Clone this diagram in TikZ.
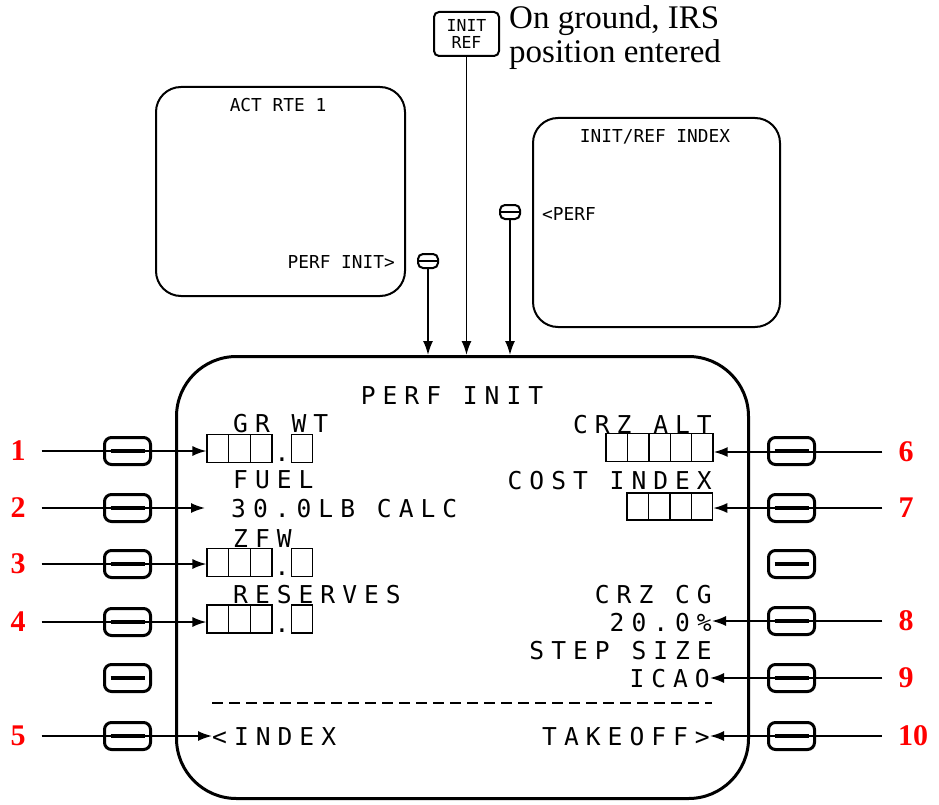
\documentclass[tikz,border=0pt]{standalone}
\usepackage{fontspec}
\usetikzlibrary{arrows.meta,positioning}
\newfontfamily\cdufont{DejaVu Sans Mono}
\newfontfamily\cduwide[LetterSpace=28.5]{DejaVu Sans Mono}
\newfontfamily\notefont{Liberation Serif}

\begin{document}
\begin{tikzpicture}[
      x=1pt, y=-1pt,
      screen/.style={draw, line width=2pt, rounded corners=25pt, inner sep=0pt},
      lsk/.style={draw, line width=3pt, rounded corners=7pt, minimum width=46pt, minimum height=27pt, inner sep=0pt,
        path picture={\draw[line width=4.5pt] ([xshift=-17pt]path picture bounding box.center) -- ([xshift=17pt]path picture bounding box.center);}},
      minikey/.style={draw, line width=2pt, rounded corners=5pt, minimum width=20pt, minimum height=14pt, inner sep=0pt,
        path picture={\draw[line width=1.5pt] (path picture bounding box.west) -- (path picture bounding box.east);}},
      cell/.style={draw, line width=1.3pt, minimum width=21.5pt, minimum height=28pt, inner sep=0pt},
      cdu/.style={font=\cduwide\fontsize{24.6}{28}\selectfont, inner sep=0pt},
      cdudot/.style={font=\cdufont\fontsize{24.6}{28}\selectfont, inner sep=0pt},
      small/.style={font=\cdufont\fontsize{17.8}{20}\selectfont, inner sep=0pt},
      num/.style={font=\notefont\bfseries\fontsize{30}{30}\selectfont, text=red, inner ysep=0pt, inner xsep=16pt},
      conn/.style={line width=1.7pt, -{Latex[length=14pt, width=10pt]}},
    ]
    \useasboundingbox (0,0) rectangle (939,805);

    % source pages
    \node[draw, line width=2pt, rounded corners=5pt, minimum width=65pt, minimum height=44pt, inner sep=0pt, align=center,
      font=\cdufont\fontsize{16.5}{17}\selectfont] (initref) at (466.5,34) {INIT\\REF};
    \node[font=\notefont\fontsize{33}{34}\selectfont, anchor=north west, align=left, inner sep=0pt] (note) at (509,5)
      {On ground, IRS\\position entered};

    \node[screen, minimum width=249pt, minimum height=209pt] (actrte) at (280.5,191.5) {};
    \node[small, anchor=base] (acttitle) at (278,112) {ACT RTE 1};
    \node[small, anchor=base east] (perfinit) at (395,268) {PERF INIT>};
    \node[minikey] (actkey) at (428,261) {};

    \node[screen, minimum width=247pt, minimum height=209pt] (refidx) at (656.5,222.5) {};
    \node[small, anchor=base] (idxtitle) at (655,143) {INIT/REF INDEX};
    \node[small, anchor=base west] (perfsel) at (542,220) {<PERF};
    \node[minikey] (idxkey) at (510,212) {};

    % PERF INIT page
    \node[draw, line width=3pt, rounded corners=60pt, minimum width=572pt, minimum height=442pt, inner sep=0pt] (perf) at (462.5,577.5) {};

    \foreach \y [count=\k] in {451,508,564,622,678,736}
      \node[lsk] (lk\k) at (127.5,\y) {};
    \foreach \y [count=\k] in {451,508,564,621,678,736}
      \node[lsk] (rk\k) at (791.5,\y) {};

    \node[cdu, anchor=base] (title) at (452,404) {PERF INIT};
    \node[cdu, anchor=base west] (grwt) at (233,432) {GR WT};
    \node[cdu, anchor=base west] (fuel) at (233,488) {FUEL};
    \node[cdu, anchor=base west] (fuelval) at (231,517) {30.0LB CALC};
    \node[cdu, anchor=base west] (zfw) at (233,547) {ZFW};
    \node[cdu, anchor=base west] (resv) at (233,603) {RESERVES};
    \node[cdu, anchor=base east] (crzalt) at (712,433) {CRZ ALT};
    \node[cdu, anchor=base east] (costidx) at (712,489) {COST INDEX};
    \node[cdu, anchor=base east] (crzcg) at (712,603) {CRZ CG};
    \node[cdu, anchor=base east] (cgval) at (712,631) {20.0\%};
    \node[cdu, anchor=base east] (stepsz) at (712,659) {STEP SIZE};
    \node[cdu, anchor=base east] (icao) at (710,687) {ICAO};
    \node[cdu, anchor=base west] (index) at (212,745) {<INDEX};
    \node[cdu, anchor=base east] (takeoff) at (710,745) {TAKEOFF>};

    % entry boxes
    \foreach \r/\yc in {gw/448.5, zfw/562.5, res/619}{
      \foreach \i in {0,1,2}
        \node[cell] (\r\i) at ({217.85+\i*21.7},\yc) {};
      \node[cell] (\r3) at (302,\yc) {};
      \node[cdudot, anchor=base] at (282,\yc+13) {.};
    }
    \foreach \i in {0,...,4}
      \node[cell] (alt\i) at ({616.7+\i*21.4},447.5) {};
    \foreach \i in {0,...,3}
      \node[cell, minimum height=27pt] (ci\i) at ({637.7+\i*21.4},506.5) {};

    \draw[line width=1.5pt, dash pattern=on 11pt off 6pt] (212,703) -- (712,703);

    % key numbers
    \node[num] (n1) at (18,451) {1};
    \node[num] (n2) at (18,508) {2};
    \node[num] (n3) at (18,564) {3};
    \node[num] (n4) at (18,622) {4};
    \node[num] (n5) at (18,736) {5};
    \node[num] (n6) at (906,452) {6};
    \node[num] (n7) at (906,508) {7};
    \node[num] (n8) at (906,621) {8};
    \node[num] (n9) at (906,678) {9};
    \node[num] (n10) at (913,736) {10};

    \draw[conn] (n1.east) -- (n1.east -| gw0.west);
    \draw[conn, shorten >=26pt] (n2.east) -- (n2.east -| fuelval.west);
    \draw[conn] (n3.east) -- (n3.east -| zfw0.west);
    \draw[conn] (n4.east) -- (n4.east -| res0.west);
    \draw[conn] (n5.east) -- (n5.east -| index.west);
    \draw[conn] (n6.west) -- (n6.west -| alt4.east);
    \draw[conn] (n7.west) -- (n7.west -| ci3.east);
    \draw[conn] (n8.west) -- (n8.west -| cgval.east);
    \draw[conn] (n9.west) -- (n9.west -| icao.east);
    \draw[conn] (n10.west) -- (n10.west -| takeoff.east);

    \draw[conn] (initref.south) -- (initref.south |- perf.north);
    \draw[conn] (actkey.south) -- (actkey.south |- perf.north);
    \draw[conn] (idxkey.south) -- (idxkey.south |- perf.north);
  \end{tikzpicture}
\end{document}
